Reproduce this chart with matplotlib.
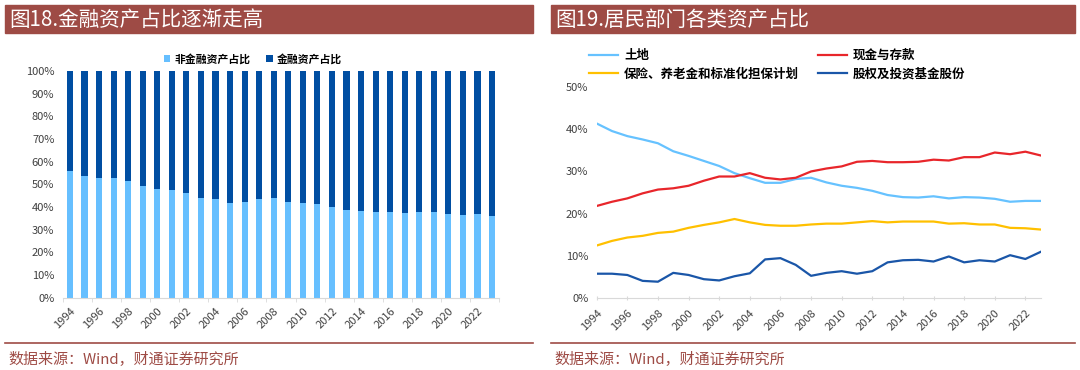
import matplotlib
matplotlib.use("Agg")
import matplotlib.pyplot as plt
from matplotlib.patches import Rectangle
from matplotlib.lines import Line2D
import numpy as np

plt.rcParams['font.family'] = ['Noto Sans CJK SC', 'DejaVu Sans']

W, H = 1080, 370

# Data
years = list(range(1994, 2024))
nonfin_share = [55.9, 53.8, 52.9, 52.7, 51.5, 49.1, 47.9, 47.4, 46.2, 44.1,
                43.5, 41.9, 42.2, 43.4, 44.1, 42.4, 41.8, 41.2, 40.0, 38.8,
                38.2, 37.9, 37.9, 37.4, 37.9, 37.6, 36.8, 36.5, 36.8, 36.2]
fin_share = [100 - v for v in nonfin_share]

land = [41.4, 39.6, 38.4, 37.6, 36.7, 34.8, 33.7, 32.5, 31.3, 29.6,
        28.4, 27.3, 27.3, 28.2, 28.5, 27.4, 26.6, 26.1, 25.4, 24.4,
        23.9, 23.8, 24.1, 23.6, 23.9, 23.8, 23.5, 22.8, 23.0, 23.0]
cash = [21.8, 22.8, 23.6, 24.8, 25.7, 26.0, 26.6, 27.8, 28.8, 28.8,
        29.6, 28.5, 28.1, 28.5, 30.0, 30.7, 31.2, 32.3, 32.5, 32.2,
        32.2, 32.3, 32.8, 32.6, 33.4, 33.4, 34.5, 34.1, 34.7, 33.8]
insurance = [12.4, 13.5, 14.3, 14.7, 15.4, 15.7, 16.6, 17.3, 17.9, 18.7,
             17.9, 17.3, 17.1, 17.1, 17.4, 17.6, 17.6, 17.9, 18.2, 17.9,
             18.1, 18.1, 18.1, 17.6, 17.7, 17.4, 17.4, 16.6, 16.5, 16.2]
equity = [5.7, 5.7, 5.4, 4.0, 3.8, 5.9, 5.4, 4.4, 4.1, 5.1,
          5.8, 9.1, 9.4, 7.8, 5.2, 5.9, 6.3, 5.7, 6.3, 8.4,
          8.9, 9.0, 8.6, 9.8, 8.4, 8.9, 8.6, 10.1, 9.2, 10.9]

titles = ["图18.金融资产占比逐渐走高", "图19.居民部门各类资产占比"]
source = "数据来源：Wind，财通证券研究所"

RED = "#9E4B45"
TXT = "#404040"
AXC = "#D9D9D9"

fig = plt.figure(figsize=(W / 100, H / 100), dpi=100)


def px(x0, y0, x1, y1):
    """pixel box (top-left origin) -> figure fraction rect"""
    return [x0 / W, 1 - y1 / H, (x1 - x0) / W, (y1 - y0) / H]


# title bars, separators and source text
for x0, x1, t in [(5, 533, titles[0]), (551, 1075, titles[1])]:
    fig.patches.append(Rectangle((x0 / W, 1 - 33 / H), (x1 - x0) / W, 28 / H,
                                 transform=fig.transFigure, color=RED, zorder=0))
    fig.text((x0 + 4) / W, 1 - 19.5 / H, t, color="white", fontsize=14.8,
             va="center", ha="left")
    fig.add_artist(Line2D([x0 / W, x1 / W], [1 - 343 / H, 1 - 343 / H],
                          transform=fig.transFigure, color=RED, lw=1.2))
    fig.text((x0 + 3) / W, 1 - 359 / H, source, color=RED, fontsize=10.8,
             va="center", ha="left")

x = np.arange(len(years))
even = x[::2]

# ---- left: stacked bars
ax1 = fig.add_axes(px(62.7, 71, 499.3, 297.7))
ax1.bar(x, nonfin_share, width=0.42, color="#66BFFF", label="非金融资产占比")
ax1.bar(x, fin_share, bottom=nonfin_share, width=0.42, color="#004EA2",
        label="金融资产占比")
ax1.set_xlim(-0.5, len(years) - 0.5)
ax1.set_ylim(0, 100)
ax1.set_yticks(range(0, 101, 10))
ax1.set_yticklabels([f"{v}%" for v in range(0, 101, 10)])
ax1.set_xticks(even)
ax1.set_xticklabels([str(years[i]) for i in even], rotation=45, ha="right",
                    rotation_mode="anchor")
ax1.set_xticks(np.arange(-0.5, len(years), 2), minor=True)
ax1.tick_params(axis="x", which="major", length=0, pad=6, labelsize=8,
                colors=TXT)
ax1.tick_params(axis="x", which="minor", length=3, color=AXC, direction="out")
ax1.tick_params(axis="y", length=0, labelsize=8, colors=TXT, pad=6)
for s in ["top", "right", "left"]:
    ax1.spines[s].set_visible(False)
ax1.spines["bottom"].set_color(AXC)
ax1.legend(loc="center", bbox_to_anchor=(253 / W, 1 - 59 / H),
           bbox_transform=fig.transFigure, ncol=2, frameon=False,
           prop={"size": 7.8, "weight": "bold"}, handlelength=0.6,
           handleheight=0.6, handletextpad=0.4, columnspacing=1.4)

# ---- right: lines
ax2 = fig.add_axes(px(596.7, 87.3, 1040.7, 297.7))
l1, = ax2.plot(x, land, color="#66C2FF", lw=1.6, label="土地")
l3, = ax2.plot(x, insurance, color="#FFC000", lw=1.6,
               label="保险、养老金和标准化担保计划")
l2, = ax2.plot(x, cash, color="#E8262B", lw=1.6, label="现金与存款")
l4, = ax2.plot(x, equity, color="#1A56A8", lw=1.6, label="股权及投资基金股份")
ax2.set_xlim(0, len(years) - 1)
ax2.set_ylim(0, 50)
ax2.set_yticks(range(0, 51, 10))
ax2.set_yticklabels([f"{v}%" for v in range(0, 51, 10)])
ax2.set_xticks(even)
ax2.set_xticklabels([str(years[i]) for i in even], rotation=45, ha="right",
                    rotation_mode="anchor")
ax2.tick_params(axis="x", length=3, color=AXC, pad=6, labelsize=8,
                labelcolor=TXT, direction="inout")
ax2.tick_params(axis="y", length=0, labelsize=8, colors=TXT, pad=6)
for s in ["top", "right", "left"]:
    ax2.spines[s].set_visible(False)
ax2.spines["bottom"].set_color(AXC)
ax2.legend(handles=[l1, l3, l2, l4], loc="upper left",
           bbox_to_anchor=(589 / W, 1 - 49 / H), bbox_transform=fig.transFigure,
           ncol=2, frameon=False, prop={"size": 9, "weight": "bold"},
           handlelength=2.3, handletextpad=0.5, columnspacing=1.5,
           labelspacing=0.45, borderaxespad=0, borderpad=0)

fig.savefig("out.png", dpi=100)
